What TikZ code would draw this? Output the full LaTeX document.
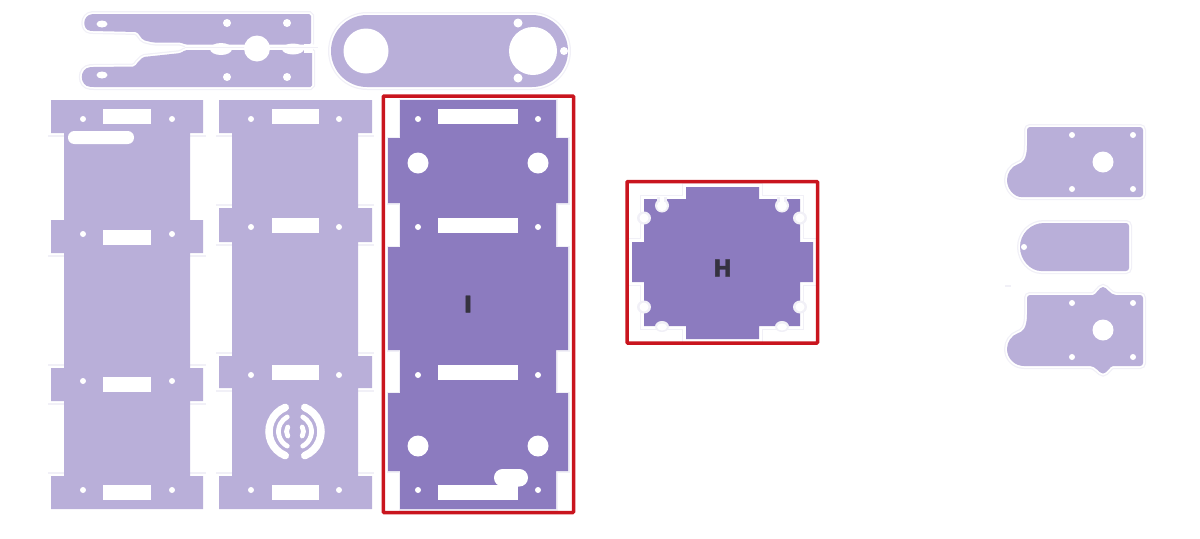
\documentclass[tikz,border=0pt]{standalone}
\usepackage{fontspec}
\newfontfamily\partfont{DejaVu Sans Bold}[FakeBold=1.6]
\definecolor{partlight}{HTML}{B9AFD9}
\definecolor{partdark}{HTML}{8C7BBF}
\definecolor{kerf}{HTML}{F1F0F7}
\definecolor{boxred}{HTML}{C9151E}
\definecolor{lettergrey}{HTML}{35323F}
\tikzset{
  halo/.style={preaction={draw=kerf,line width=0.12cm},preaction={draw=white,line width=0.07cm}},
  kerfline/.style={draw=kerf,line width=0.03cm},
  redbox/.style={draw=boxred,line width=0.07cm,rounded corners=0.5pt},
  cut/.style={fill=white},
  letter/.style={text=lettergrey,font=\partfont\fontsize{13}{14}\selectfont,inner sep=0pt}
}
\begin{document}
\begin{tikzpicture}[x=0.02cm,y=-0.02cm]
      \useasboundingbox (0,0) rectangle (1200,538);
      % top left piece, two halves
      \fill[partlight,halo,rounded corners=1pt] (311,14) -- (311,44.5) -- (185,44.5) -- (181,42.5) -- (153,42.5) -- (143,40) -- (137,32) -- (92,31) .. controls (82,30) and (82,15) .. (94,14) -- cycle;
      \fill[partlight,halo,rounded corners=1pt] (312,87) -- (312,50) -- (185,50) -- (181,53) -- (153,56) -- (143,57) -- (137,63) -- (135,66.5) -- (92,67) .. controls (79,68) and (79,86) .. (92,87) -- cycle;
      \fill[cut] (185,44.5) rectangle (313,50);
      \fill[cut] (221,49) ellipse (11 and 6);
      \fill[cut] (293,49) ellipse (11 and 5.5);
      \fill[cut] (304,43.5) -- (313,43.5) -- (313,53) -- (304,53) -- cycle;
      \draw[kerfline] (185,47.3) -- (318,47.3);
      \fill[cut] (257,48.5) circle (13);
      \foreach \y in {24,75} {
        \fill[cut] (102,\y) ellipse (5.5 and 3.5);
      }
      \foreach \x in {227,287} {
        \foreach \y in {23,77} {
          \fill[cut] (\x,\y) circle (4);
        }
      }
      % oval piece
      \fill[partlight,halo] (367,15) -- (532,15) arc (-90:90:36) -- (367,87) arc (90:270:36) -- cycle;
      \fill[cut] (366,51) circle (22.5);
      \fill[cut] (533,51) circle (24);
      \fill[cut] (518,23) circle (4.5);
      \fill[cut] (518,78) circle (4.5);
      \fill[cut] (564,51) circle (4);
      % first long panel
      \foreach \y in {136,365,256,404,473} {
        \draw[kerfline] (48,\y) -- (64,\y);
        \draw[kerfline] (190,\y) -- (206,\y);
      }
      \fill[partlight] (51,100) -| (203,133) -| (190,220) -| (203,253) -| (190,368) -| (203,401) -| (190,476) -| (203,509) -| (51,476) -| (64,401) -| (51,368) -| (64,253) -| (51,220) -| (64,133) -| cycle;
      \foreach \y/\h in {109/119,230/234,377/381,485/490} {
        \fill[cut] (103,\y) rectangle (151,\y+14.5);
        \fill[cut] (83,\h) circle (3);
        \fill[cut] (172,\h) circle (3);
      }
      \fill[cut,rounded corners=3.6pt] (68,131) rectangle (134,144);
      % second long panel
      \foreach \y in {136,205,245,353,391,473} {
        \draw[kerfline] (216,\y) -- (232,\y);
        \draw[kerfline] (358,\y) -- (374,\y);
      }
      \fill[partlight] (219,100) -| (372,133) -| (358,208) -| (372,242) -| (358,356) -| (372,388) -| (358,476) -| (372,509) -| (219,476) -| (232,388) -| (219,356) -| (232,242) -| (219,208) -| (232,133) -| cycle;
      \foreach \y/\h in {109/119,218/227,365/375,485/490} {
        \fill[cut] (272,\y) rectangle (319,\y+14.5);
        \fill[cut] (251,\h) circle (3);
        \fill[cut] (339,\h) circle (3);
      }
      % speaker slots
      \begin{scope}[shift={(295,431.5)},draw=white,line cap=round]
        \foreach \a in {-1,1} {
          \begin{scope}[xscale=\a]
            \draw[line width=0.15cm] (26*cos 112,26*sin 112) arc (112:248:26);
            \draw[line width=0.095cm] (16.5*cos 118,16.5*sin 118) arc (118:242:16.5);
            \draw[line width=0.095cm] (8.5*cos 148,8.5*sin 148) arc (148:212:8.5);
          \end{scope}
        }
      \end{scope}
      % panel I
      \fill[partdark,preaction={draw=kerf,line width=0.06cm}] (400,100) -| (556,138) -| (568,203) -| (556,247) -| (568,350) -| (556,393) -| (568,471) -| (556,509) -| (400,471) -| (388,393) -| (400,350) -| (388,247) -| (400,203) -| (388,138) -| cycle;
      \foreach \y/\h in {109/119,218/227,365/375,485/490} {
        \fill[cut] (438,\y) rectangle (518,\y+14.5);
        \fill[cut] (418,\h) circle (3);
        \fill[cut] (538,\h) circle (3);
      }
      \foreach \x in {418,538} {
        \foreach \y in {163,446} {
          \fill[cut] (\x,\y) circle (10.5);
        }
      }
      \fill[cut,rounded corners=4.9pt] (494,469) rectangle (528,486.5);
      \node[letter] at (468,304) (labelI) {I};
      \draw[redbox] (383.3,96) rectangle (573.5,512.5);
      % panel H
      \fill[partdark,preaction={draw=kerf,line width=0.16cm},preaction={draw=white,line width=0.11cm}] (686,187) -- (759,187) -- (759,199) -- (800,199) -- (800,242) -- (813,242) -- (813,282) -- (800,282) -- (800,326) -- (759,326) -- (759,339) -- (686,339) -- (686,326) -- (644,326) -- (644,282) -- (632,282) -- (632,242) -- (644,242) -- (644,199) -- (686,199) -- cycle;
      \foreach \x in {662,782} {
        \fill[kerf] (\x,205.5) circle (7);
        \fill[kerf] (\x-5,197) rectangle (\x+5,205);
        \fill[cut] (\x,206) circle (5);
        \fill[cut] (\x-2,196) rectangle (\x+2,206);
        \fill[kerf] (\x,326.5) ellipse (7 and 5.5);
        \fill[cut] (\x,327) ellipse (5 and 3.5);
      }
      \foreach \x in {644,800} {
        \foreach \y in {218,307} {
          \fill[kerf] (\x,\y) ellipse (7 and 6.5);
          \fill[cut] (\x,\y) ellipse (4.5 and 4.5);
        }
      }
      \node[letter,xscale=0.95] at (722.5,268) (labelH) {H};
      \draw[redbox] (627,181.5) rectangle (817.5,343);
      % right pieces
      \fill[partlight,halo,rounded corners=1.7pt] (1143,127) -- (1143,197) -- (1024,197) [sharp corners] arc (90:250:17) .. controls (1022,163) and (1027,160) .. (1027,145) [rounded corners=1.7pt] -- (1027,127) -- cycle;
      \fill[partlight,halo,rounded corners=1.7pt] (1129,223) -- (1129,271) -- (1044,271) [sharp corners] arc (90:270:24) [rounded corners=1.7pt] -- cycle;
      \fill[partlight,halo,rounded corners=1.7pt] (1143,295) -- (1143,366) -- (1116,366) [sharp corners] .. controls (1110,366) and (1107,373.5) .. (1103,373.5) .. controls (1099,373.5) and (1096,366) .. (1090,366) -- (1024,366) arc (90:250:17) .. controls (1022,332) and (1027,329) .. (1027,314) [rounded corners=1.7pt] -- (1027,295) -- (1090,295) [sharp corners] .. controls (1096,295) and (1099,287) .. (1103,287) .. controls (1107,287) and (1110,295) .. (1116,295) [rounded corners=1.7pt] -- cycle;
      \foreach \y/\a/\b in {162/135/189,330/303/357} {
        \fill[cut] (1103,\y) circle (10.5);
        \foreach \x in {1072,1133} {
          \fill[cut] (\x,\a) circle (3);
          \fill[cut] (\x,\b) circle (3);
        }
      }
      \fill[cut] (1024,247) circle (3);
      \draw[kerfline] (1005,286) -- (1011,286);
\end{tikzpicture}
\end{document}
